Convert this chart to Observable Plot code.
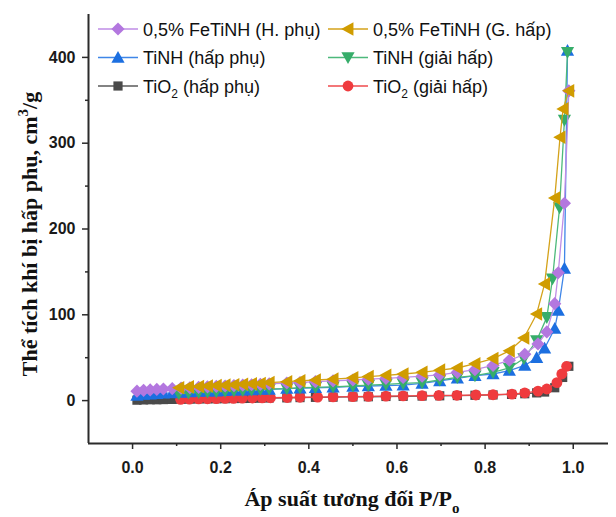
<!DOCTYPE html>
<html><head><meta charset="utf-8">
<script src="https://cdn.jsdelivr.net/npm/d3@7"></script>
<script src="https://cdn.jsdelivr.net/npm/@observablehq/plot@0.6"></script>
<style>
body{margin:0;background:#fff;}
#chart{position:relative;width:616px;height:517px;overflow:hidden;background:#fff;}
</style></head><body><div id="chart"></div>
<script>
// ---------- data ----------
const xFeAds = [0.01,0.025,0.04,0.055,0.07,0.09,0.11,0.13,0.15,0.17,0.19,0.21,0.23,0.25,0.27,0.29,0.31,0.35,0.38,0.415,0.455,0.5,0.535,0.575,0.614,0.657,0.697,0.737,0.777,0.818,0.855,0.89,0.92,0.94,0.958,0.966,0.98,0.99];
const yFeAds = [11,12,12.5,13,13.5,14,14.5,15,15.5,16,16.5,17,17.5,18,18.5,19,19.5,20.5,21,22,23,24,25,26,27,28.5,30,33,36,41,47,54,66,80,113,149,230,361];

const xFeDes = [0.105,0.127,0.15,0.17,0.19,0.21,0.23,0.25,0.27,0.29,0.31,0.35,0.38,0.415,0.455,0.5,0.535,0.575,0.614,0.657,0.697,0.737,0.777,0.818,0.855,0.888,0.917,0.935,0.958,0.97,0.977,0.99];
const yFeDes = [15,16,16.5,17,17.5,18,18.5,19,19.5,20,21,22,23,24,25,26.5,28,29.5,31,33,35.5,38,43,49,58,73,101,136,236,307,340,361];

const xTiAds = [0.01,0.025,0.04,0.055,0.07,0.09,0.11,0.13,0.15,0.17,0.19,0.21,0.23,0.25,0.27,0.29,0.31,0.35,0.38,0.415,0.455,0.5,0.535,0.575,0.614,0.657,0.697,0.737,0.777,0.818,0.855,0.89,0.917,0.935,0.958,0.966,0.98,0.987];
const yTiAds = [6,7,7.5,8,8.5,9,9.5,10,10.5,11,11,11.5,12,12,12.5,13,13,14,14.5,15,15.5,16.5,17,17.5,18,20,23,26,29,31,35,41,50,61,84,105,154,408];

const xTiDes = [0.105,0.127,0.15,0.17,0.19,0.21,0.23,0.25,0.27,0.29,0.31,0.35,0.38,0.415,0.455,0.5,0.535,0.575,0.614,0.657,0.697,0.737,0.777,0.818,0.855,0.888,0.917,0.94,0.953,0.969,0.98,0.987];
const yTiDes = [8,9,9.5,10,10.5,11,11.5,12,12.5,13,13.5,14,15,15.5,16,17,18,19,20,21,24,27,29,33,38,49,70,97,142,225,327,406];

const xTiO2Ads = [0.01,0.025,0.04,0.055,0.07,0.09,0.11,0.13,0.15,0.17,0.19,0.21,0.23,0.25,0.27,0.29,0.31,0.35,0.38,0.415,0.455,0.5,0.535,0.575,0.614,0.657,0.697,0.737,0.777,0.818,0.86,0.89,0.917,0.935,0.958,0.976,0.99];
const yTiO2Ads = [0.5,0.8,1,1,1.2,1.4,1.5,1.7,1.9,2,2.1,2.2,2.4,2.5,2.6,2.8,3,3.2,3.5,3.8,4,4.3,4.5,4.8,5,5.3,5.6,5.9,6.2,6.6,7.2,8,9,10,15,27,40];

const xTiO2Des = [0.109,0.129,0.15,0.17,0.19,0.21,0.229,0.249,0.272,0.294,0.313,0.351,0.38,0.42,0.455,0.5,0.535,0.575,0.614,0.657,0.695,0.736,0.779,0.818,0.861,0.89,0.92,0.94,0.963,0.974,0.985];
const yTiO2Des = [1.5,1.7,2,2.1,2.3,2.5,2.6,2.8,3,3.1,3.3,3.6,3.9,4.1,4.4,4.7,5,5.2,5.4,5.7,6,6.2,6.5,6.8,7.6,9,11,13.5,21,31,40];

const seriesLabels = ["TiO_{2} (hấp phụ)","TiO_{2} (giải hấp)","TiNH (hấp phụ)","TiNH (giải hấp)","0,5% FeTiNH (H. phụ)","0,5% FeTiNH (G. hấp)"];
const xTicks = [0,0.2,0.4,0.6,0.8,1.0];
const xMinor = [0.1,0.3,0.5,0.7,0.9];
const yTicks = [0,100,200,300,400];
const yMinor = [50,150,250,350];
const xLabel = "Áp suất tương đối P/P_{o}";
const yLabel = "Thể tích khí bị hấp phụ, cm^{3}/g";

// ---------- symbols ----------
const rad = s => Math.sqrt(s / Math.PI);
const symDiamond = {draw(c, s){const r=rad(s); c.moveTo(0,-r); c.lineTo(r,0); c.lineTo(0,r); c.lineTo(-r,0); c.closePath();}};
const symUp = {draw(c, s){const r=rad(s); c.moveTo(0,-r); c.lineTo(r,0.8*r); c.lineTo(-r,0.8*r); c.closePath();}};
const symDown = {draw(c, s){const r=rad(s); c.moveTo(0,r); c.lineTo(r,-0.8*r); c.lineTo(-r,-0.8*r); c.closePath();}};
const symLeft = {draw(c, s){const r=rad(s); c.moveTo(-r,0); c.lineTo(0.8*r,-r); c.lineTo(0.8*r,r); c.closePath();}};
const symSquare = {draw(c, s){const r=rad(s); c.rect(-r,-r,2*r,2*r);}};

const series = [
  {x:xTiO2Ads, y:yTiO2Ads, label:seriesLabels[0], color:"#4a4a4a", line:"#5a5a5a", sym:symSquare, r:4.6},
  {x:xTiO2Des, y:yTiO2Des, label:seriesLabels[1], color:"#ef3b3e", line:"#ef4a4c", sym:d3.symbolCircle, r:5.4},
  {x:xTiAds, y:yTiAds, label:seriesLabels[2], color:"#1c6fe0", line:"#3f86e8", sym:symUp, r:6.6},
  {x:xTiDes, y:yTiDes, label:seriesLabels[3], color:"#36ad6a", line:"#4cb97b", sym:symDown, r:6.6},
  {x:xFeAds, y:yFeAds, label:seriesLabels[4], color:"#b377df", line:"#bf8de6", sym:symDiamond, r:6.6},
  {x:xFeDes, y:yFeDes, label:seriesLabels[5], color:"#d09c00", line:"#d4a21a", sym:symLeft, r:6.8}
];

const dataMarks = series.flatMap(s => {
  const rows = s.x.map((x, i) => ({x, y: s.y[i]}));
  return [
    Plot.line(rows, {x:"x", y:"y", stroke:s.line, strokeWidth:1.3}),
    Plot.dot(rows, {x:"x", y:"y", symbol:s.sym, r:s.r, fill:s.color, stroke:"none"})
  ];
});

const axisColor = "#2b2b2b";
const chart = Plot.plot({
  width: 616, height: 517,
  marginLeft: 88, marginRight: 8, marginTop: 14, marginBottom: 74,
  style: {fontFamily: "'Liberation Sans', Arial, sans-serif", fontSize: "16px", fontWeight: "bold", background: "white", color: "#1a1a1a", overflow: "visible"},
  x: {domain: [-0.1, 1.08]},
  y: {domain: [-50, 450]},
  marks: [
    ...dataMarks,
    Plot.axisX({ticks: xTicks, tickSize: 6, tickPadding: 12, tickFormat: d3.format(".1f"), label: null, stroke: axisColor, strokeWidth: 1.5}),
    Plot.axisX({ticks: xMinor, tickSize: 3, tickPadding: 0, tickFormat: () => "", label: null, stroke: axisColor, strokeWidth: 1.5}),
    Plot.axisY({ticks: yTicks, tickSize: 6, tickPadding: 7, tickFormat: d3.format("d"), label: null, stroke: axisColor, strokeWidth: 1.5}),
    Plot.axisY({ticks: yMinor, tickSize: 3, tickPadding: 0, tickFormat: () => "", label: null, stroke: axisColor, strokeWidth: 1.5}),
    Plot.ruleY([-50], {stroke: axisColor, strokeWidth: 2}),
    Plot.ruleX([-0.1], {stroke: axisColor, strokeWidth: 2})
  ]
});
document.getElementById("chart").appendChild(chart);

const svg = d3.select(chart);
// drop the empty labels of the minor tick axes
svg.selectAll("text").filter(function(){ return this.textContent.trim() === ""; }).remove();

// ---------- rich text helper: _{sub} and ^{sup} ----------
function rich(sel, str, baseSize) {
  const re = /([_^])\{([^}]*)\}/g;
  let last = 0, m, pending = 0;
  const small = Math.round(baseSize * 0.68);
  const add = (t) => {
    const ts = sel.append("tspan").text(t);
    if (pending) ts.attr("dy", pending);
    pending = 0;
    return ts;
  };
  while ((m = re.exec(str))) {
    if (m.index > last) add(str.slice(last, m.index));
    const shift = m[1] === "_" ? 0.3 * baseSize : -0.42 * baseSize;
    pending += shift;
    add(m[2]).attr("font-size", small);
    pending = -shift;
    last = re.lastIndex;
  }
  if (last < str.length) add(str.slice(last));
}

// axis titles
const serif = "'Liberation Serif', 'Times New Roman', serif";
rich(svg.append("text").attr("x", 352).attr("y", 506).attr("text-anchor", "middle")
  .attr("font-family", serif).attr("font-size", 22).attr("font-weight", "bold").attr("fill", "#111"), xLabel, 22);
rich(svg.append("text").attr("transform", "translate(37,234) rotate(-90)").attr("text-anchor", "middle")
  .attr("font-family", serif).attr("font-size", 22).attr("font-weight", "bold").attr("fill", "#111"), yLabel, 22);

// legend (order as in the reference)
const legendOrder = [4, 5, 2, 3, 0, 1];
const leg = svg.append("g").attr("font-family", "'Liberation Sans', Arial, sans-serif").attr("font-size", 18)
  .attr("font-weight", "normal").attr("fill", "#111").attr("text-anchor", "start");
legendOrder.forEach((si, k) => {
  const s = series[si];
  const col = k % 2, row = Math.floor(k / 2);
  const x0 = col === 0 ? 98 : 328;
  const yc = 29 + row * 28.5;
  leg.append("line").attr("x1", x0).attr("x2", x0 + 40).attr("y1", yc).attr("y2", yc).attr("stroke", s.line).attr("stroke-width", 1.3);
  leg.append("path").attr("transform", `translate(${x0 + 20},${yc})`)
    .attr("d", d3.symbol(s.sym, Math.PI * s.r * s.r)()).attr("fill", s.color);
  rich(leg.append("text").attr("x", x0 + 45).attr("y", yc + 6.5).attr("text-anchor", "start"), s.label, 18);
});
</script>
</body></html>
